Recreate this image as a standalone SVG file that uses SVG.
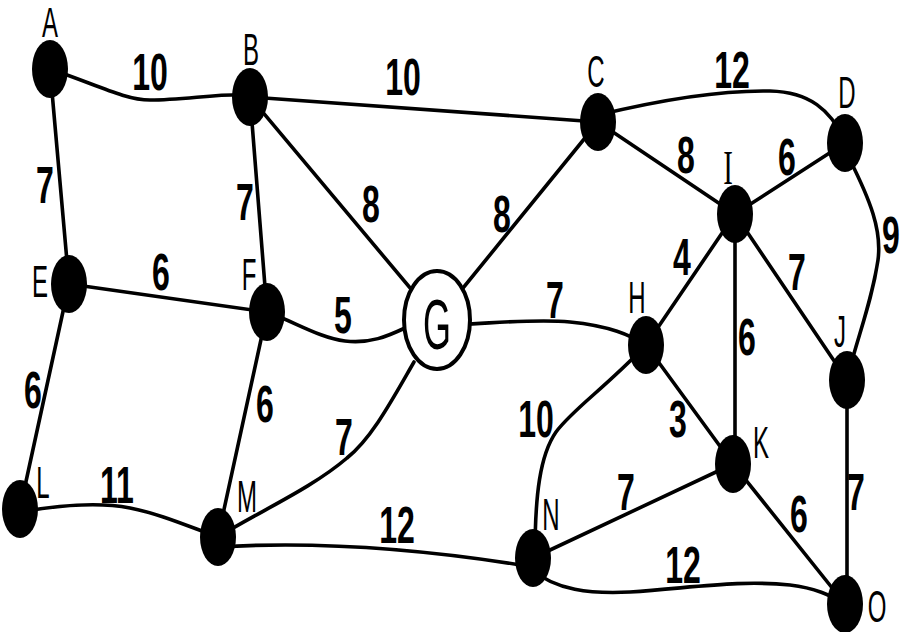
<svg xmlns="http://www.w3.org/2000/svg" width="905" height="632" viewBox="0 0 905 632">
<style>
.e{fill:none;stroke:#000;stroke-width:3.6;stroke-linecap:round;stroke-linejoin:round}
.n{fill:#000}
.g{fill:#fff;stroke:#000;stroke-width:4}
.lb{font-family:"Liberation Sans",Arial,sans-serif;font-size:24px;text-anchor:middle;fill:#000}
.w{font-family:"Liberation Sans",Arial,sans-serif;font-size:32px;font-weight:bold;text-anchor:middle;fill:#000}
.sf{font-family:"Liberation Serif","Times New Roman",serif;font-size:29px;text-anchor:middle;fill:#000}
</style>
<rect width="905" height="632" fill="#fff"/>
<g id="edges">
<path class="e" d="M50,69 C95,84 125,100 150,100 C185,100 220,93 250,95"/>
<path class="e" d="M250,97 L598,122"/>
<path class="e" d="M598,115 C660,100 720,90 770,91 C810,92 830,110 845,140"/>
<path class="e" d="M50,69 L69,284"/>
<path class="e" d="M250,97 L267,312"/>
<path class="e" d="M250,97 L437,320"/>
<path class="e" d="M69,284 L267,312"/>
<path class="e" d="M267,312 C295,322 320,338 345,341 C370,344 388,336 405,328"/>
<path class="e" d="M598,122 L437,320"/>
<path class="e" d="M437,325 C480,325 530,318 570,322 C610,326 630,335 646,345"/>
<path class="e" d="M69,284 L20,509"/>
<path class="e" d="M267,312 L218,537"/>
<path class="e" d="M414,362 C392,400 372,438 347,458 C312,488 262,510 218,537"/>
<path class="e" d="M20,512 C60,505 100,502 130,508 C160,514 185,525 218,537"/>
<path class="e" d="M218,547 C300,542 400,545 533,567"/>
<path class="e" d="M533,570 C555,590 590,594 630,592 C700,587 740,580 790,585 C815,588 830,595 845,604"/>
<path class="e" d="M598,122 L735,214"/>
<path class="e" d="M735,214 L845,143"/>
<path class="e" d="M850,160 C870,200 882,230 878,260 C872,300 860,330 848,375"/>
<path class="e" d="M735,214 L847,380"/>
<path class="e" d="M735,214 L646,345"/>
<path class="e" d="M735,214 L735,464"/>
<path class="e" d="M646,345 L733,464"/>
<path class="e" d="M646,345 C605,388 572,410 556,432 C540,455 535,495 535,555"/>
<path class="e" d="M533,558 L733,464"/>
<path class="e" d="M733,464 L845,604"/>
<path class="e" d="M847,380 L847,604"/>
</g>
<g id="weights">
<text class="w" transform="translate(150,90) scale(1,1.6)">10</text>
<text class="w" transform="translate(403,95) scale(1,1.6)">10</text>
<text class="w" transform="translate(45,203) scale(1,1.6)">7</text>
<text class="w" transform="translate(245,220) scale(1,1.6)">7</text>
<text class="w" transform="translate(371,222) scale(1,1.6)">8</text>
<text class="w" transform="translate(161,290) scale(1,1.6)">6</text>
<text class="w" transform="translate(343,333) scale(1,1.6)">5</text>
<text class="w" transform="translate(33,408) scale(1,1.6)">6</text>
<text class="w" transform="translate(265,422) scale(1,1.6)">6</text>
<text class="w" transform="translate(344,455) scale(1,1.6)">7</text>
<text class="w" transform="translate(117,503) scale(1,1.6)">11</text>
<text class="w" transform="translate(397,543) scale(1,1.6)">12</text>
<text class="w" transform="translate(732,88) scale(1,1.6)">12</text>
<text class="w" transform="translate(502,232) scale(1,1.6)">8</text>
<text class="w" transform="translate(686,173) scale(1,1.6)">8</text>
<text class="w" transform="translate(787,175) scale(1,1.6)">6</text>
<text class="w" transform="translate(891,253) scale(1,1.6)">9</text>
<text class="w" transform="translate(682,275) scale(1,1.6)">4</text>
<text class="w" transform="translate(797,290) scale(1,1.6)">7</text>
<text class="w" transform="translate(555,318) scale(1,1.6)">7</text>
<text class="w" transform="translate(747,355) scale(1,1.6)">6</text>
<text class="w" transform="translate(536,437) scale(1,1.6)">10</text>
<text class="w" transform="translate(678,437) scale(1,1.6)">3</text>
<text class="w" transform="translate(626,510) scale(1,1.6)">7</text>
<text class="w" transform="translate(799,532) scale(1,1.6)">6</text>
<text class="w" transform="translate(856,510) scale(1,1.6)">7</text>
<text class="w" transform="translate(683,583) scale(1,1.6)">12</text>
</g>
<g id="node-A"><ellipse class="n" cx="50" cy="69" rx="18" ry="29"/><text class="lb" transform="translate(50,37) scale(1,1.75)">A</text></g>
<g id="node-B"><ellipse class="n" cx="250" cy="97" rx="18" ry="29"/><text class="lb" transform="translate(251,65) scale(1,1.85)">B</text></g>
<g id="node-C"><ellipse class="n" cx="598" cy="122" rx="18" ry="29"/><text class="lb" transform="translate(596,87) scale(1,1.85)">C</text></g>
<g id="node-D"><ellipse class="n" cx="845" cy="143" rx="18" ry="29"/><text class="lb" transform="translate(847,108) scale(1,1.85)">D</text></g>
<g id="node-E"><ellipse class="n" cx="69" cy="284" rx="18" ry="29"/><text class="lb" transform="translate(40,297) scale(1,1.85)">E</text></g>
<g id="node-F"><ellipse class="n" cx="267" cy="312" rx="18" ry="29"/><text class="lb" transform="translate(249,290) scale(1,1.85)">F</text></g>
<g id="node-G"><ellipse class="g" cx="437" cy="320" rx="33" ry="49"/><text class="lb" style="font-size:36px" transform="translate(437,349) scale(1,1.95)">G</text></g>
<g id="node-H"><ellipse class="n" cx="646" cy="345" rx="18" ry="29"/><text class="lb" transform="translate(637,313) scale(1,1.85)">H</text></g>
<g id="node-I"><ellipse class="n" cx="735" cy="214" rx="18" ry="29"/><text class="sf" transform="translate(728,184) scale(1,1.65)">I</text></g>
<g id="node-J"><ellipse class="n" cx="847" cy="380" rx="18" ry="29"/><text class="lb" transform="translate(840,347) scale(1,1.85)">J</text></g>
<g id="node-K"><ellipse class="n" cx="733" cy="464" rx="18" ry="29"/><text class="lb" transform="translate(761,458) scale(1,1.85)">K</text></g>
<g id="node-L"><ellipse class="n" cx="20" cy="509" rx="18" ry="29"/><text class="lb" transform="translate(43,498) scale(1,1.85)">L</text></g>
<g id="node-M"><ellipse class="n" cx="218" cy="537" rx="18" ry="29"/><text class="lb" transform="translate(247,512) scale(1,1.85)">M</text></g>
<g id="node-N"><ellipse class="n" cx="533" cy="558" rx="18" ry="29"/><text class="lb" transform="translate(551,530) scale(1,1.85)">N</text></g>
<g id="node-O"><ellipse class="n" cx="845" cy="604" rx="18" ry="29"/><text class="lb" transform="translate(877,622) scale(1,1.85)">O</text></g>
</svg>
